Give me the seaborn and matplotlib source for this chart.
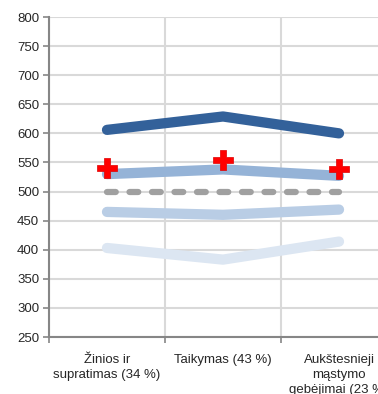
import matplotlib
matplotlib.use("Agg")
import matplotlib.pyplot as plt
import seaborn as sns
import pandas as pd
import numpy as np

# ---- data ----
categories = ["Žinios ir\nsupratimas (34 %)", "Taikymas (43 %)", "Aukštesnieji\nmąstymo\ngebėjimai (23 %)"]
dark_blue = [606, 629, 600]
mid_blue = [530, 538, 527]
avg_line = [500, 500, 500]
light_blue = [465, 460, 469]
pale_blue = [403, 383, 414]
red_plus = [541, 554, 539]
y_ticks = [250, 300, 350, 400, 450, 500, 550, 600, 650, 700, 750, 800]

sns.set_theme(style="white")
plt.rcParams['font.family'] = ['Liberation Sans', 'DejaVu Sans']

fig = plt.figure(figsize=(3.78, 3.94), dpi=100)
ax = fig.add_axes([49/378, 57/394, 348/378, 320/394])

x = np.arange(len(categories))
def df_of(vals):
    return pd.DataFrame({"x": x, "y": vals})

lw = 7.4
series = [
    (pale_blue, "#DCE6F2"),
    (light_blue, "#B9CDE5"),
    (mid_blue, "#95B3D7"),
    (dark_blue, "#33619A"),
]
for vals, col in series:
    sns.lineplot(data=df_of(vals), x="x", y="y", ax=ax, color=col, linewidth=lw,
                 solid_capstyle="round", solid_joinstyle="round", zorder=3)

sns.lineplot(data=df_of(avg_line), x="x", y="y", ax=ax, color="#A0A0A0", linewidth=4.5,
             dashes=False, zorder=3)
ax.lines[-1].set_linestyle((0, (1.4, 2.2)))
ax.lines[-1].set_dash_capstyle("round")

sns.scatterplot(data=df_of(red_plus), x="x", y="y", ax=ax, marker="P", s=200,
                color="#FF0000", edgecolor="#E00000", linewidth=0.5, zorder=5)

ax.set_xlim(-0.5, 2.5)
ax.set_ylim(250, 800)
ax.set_yticks(y_ticks)
ax.set_xticks(x)
ax.set_xticklabels(categories, linespacing=1.35)
ax.set_xticks([-0.5, 0.5, 1.5, 2.5], minor=True)
ax.set_xlabel("")
ax.set_ylabel("")

ax.grid(False)
ax.yaxis.grid(True, color="#D9D9D9", linewidth=1.5, zorder=0)
ax.xaxis.grid(True, which="minor", color="#D9D9D9", linewidth=1.5, zorder=0)
ax.set_axisbelow(True)

for s in ["top", "right"]:
    ax.spines[s].set_visible(False)
for s in ["left", "bottom"]:
    ax.spines[s].set_color("#868686")
    ax.spines[s].set_linewidth(1.5)

ax.tick_params(axis="y", which="major", left=True, length=4, width=1.2, color="#868686",
               labelsize=9.5, labelcolor="#262626", pad=3)
ax.tick_params(axis="x", which="major", bottom=False, length=0, labelsize=9.5,
               labelcolor="#262626", pad=12)
ax.tick_params(axis="x", which="minor", bottom=True, length=4, width=1.2, color="#868686")
for lab in ax.get_xticklabels():
    lab.set_verticalalignment("top")

fig.savefig("out.png", dpi=100)
